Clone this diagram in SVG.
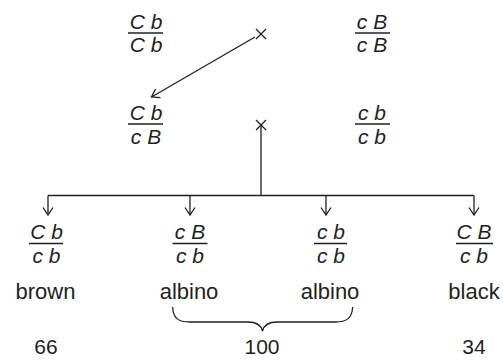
<svg xmlns="http://www.w3.org/2000/svg" width="503" height="360" viewBox="0 0 503 360">
<style>
.g{font-family:"Liberation Sans",Arial,sans-serif;font-style:italic;font-size:21px;fill:#231f20;text-anchor:middle}
.l{font-family:"Liberation Sans",Arial,sans-serif;font-size:22px;fill:#231f20;text-anchor:middle}
.n{font-family:"Liberation Sans",Arial,sans-serif;font-size:21px;fill:#231f20;text-anchor:middle}
.bar{stroke:#231f20;stroke-width:1.3;fill:none}
.c{stroke:#231f20;stroke-width:1.3;fill:none}
</style>
<defs>
<marker id="ah" viewBox="-8 -6 10 12" markerWidth="10" markerHeight="12" refX="0" refY="0" orient="auto" markerUnits="userSpaceOnUse">
<path d="M-7.5,-5 L0,0 L-7.5,5" fill="none" stroke="#231f20" stroke-width="1.3"/>
</marker>
</defs>
<rect width="503" height="360" fill="#fff"/>
<g id="p1">
<text class="g" x="146" y="29">C b</text><line class="bar" x1="128" y1="33" x2="163" y2="33"/><text class="g" x="146" y="52">C b</text>
</g>
<g id="p2">
<text class="g" x="372" y="29">c B</text><line class="bar" x1="355" y1="33" x2="390" y2="33"/><text class="g" x="372" y="52">c B</text>
</g>
<g id="f1">
<text class="g" x="146" y="120">C b</text><line class="bar" x1="128" y1="124" x2="163" y2="124"/><text class="g" x="146" y="144">c B</text>
</g>
<g id="tc">
<text class="g" x="372" y="120">c b</text><line class="bar" x1="355" y1="124" x2="390" y2="124"/><text class="g" x="372" y="144">c b</text>
</g>
<g id="o1">
<text class="g" x="46.5" y="239">C b</text><line class="bar" x1="29" y1="243.5" x2="63" y2="243.5"/><text class="g" x="46.5" y="263">c b</text>
<text class="l" x="45.5" y="299">brown</text>
</g>
<g id="o2">
<text class="g" x="190" y="239">c B</text><line class="bar" x1="172.5" y1="243.5" x2="207.5" y2="243.5"/><text class="g" x="190" y="263">c b</text>
<text class="l" x="189" y="299">albino</text>
</g>
<g id="o3">
<text class="g" x="331" y="239">c b</text><line class="bar" x1="314" y1="243.5" x2="347" y2="243.5"/><text class="g" x="331" y="263">c b</text>
<text class="l" x="330" y="299">albino</text>
</g>
<g id="o4">
<text class="g" x="474" y="239">C B</text><line class="bar" x1="456" y1="243.5" x2="493" y2="243.5"/><text class="g" x="474" y="263">c b</text>
<text class="l" x="474" y="299">black</text>
</g>
<g id="counts">
<text class="n" x="46" y="354">66</text>
<text class="n" x="262" y="354">100</text>
<text class="n" x="474" y="354">34</text>
</g>
<g id="connectors">
<path class="c" d="M256,29 L266,39 M266,29 L256,39"/>
<path class="c" d="M256,120 L266,130 M266,120 L256,130"/>
<line class="c" x1="255" y1="37" x2="151.5" y2="97" marker-end="url(#ah)"/>
<path class="c" d="M261,126 L261,195.5 M48,195.5 L474,195.5"/>
<line class="c" x1="48" y1="195.5" x2="48" y2="215" marker-end="url(#ah)"/>
<line class="c" x1="190" y1="195.5" x2="190" y2="215" marker-end="url(#ah)"/>
<line class="c" x1="326" y1="195.5" x2="326" y2="215" marker-end="url(#ah)"/>
<line class="c" x1="474" y1="195.5" x2="474" y2="215" marker-end="url(#ah)"/>
<path class="c" d="M172.7,307 C173,318 178,322 190,322 L248,322 C256,322 261,325 262.5,331 C264,325 269,322 277,322 L335,322 C347,322 352,318 352.7,307"/>
</g>
</svg>
